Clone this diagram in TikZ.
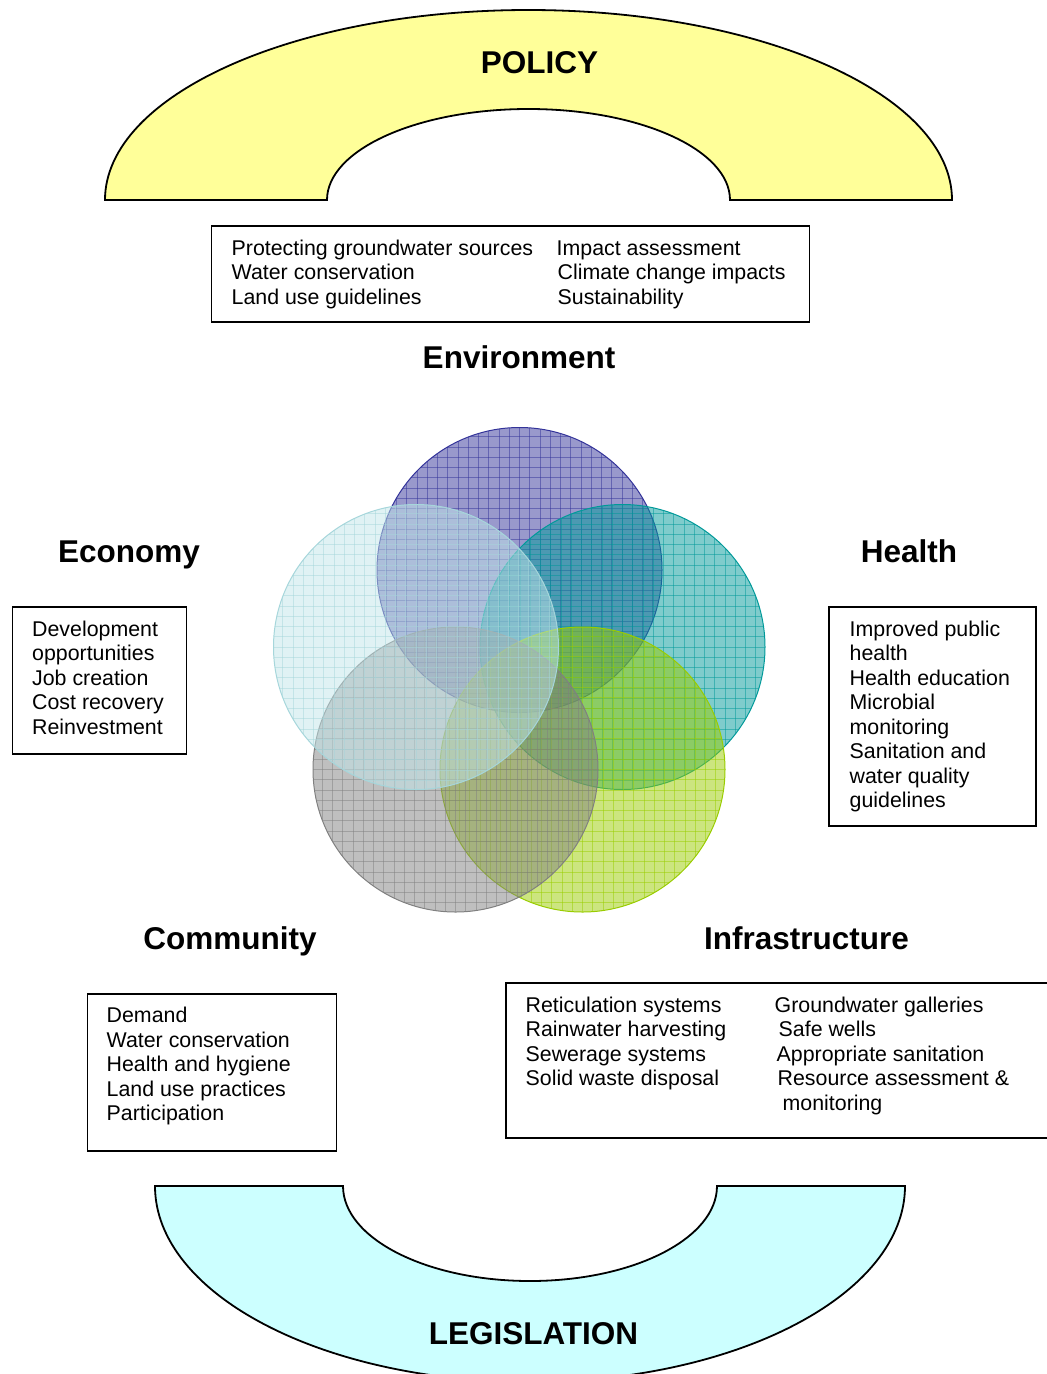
\documentclass[tikz,border=0pt]{standalone}
\usepackage{fontspec}
\setmainfont{Liberation Sans}
\usetikzlibrary{calc}
\definecolor{envc}{HTML}{333399}
\definecolor{heac}{HTML}{009999}
\definecolor{infc}{HTML}{99CC00}
\definecolor{comc}{HTML}{808080}
\definecolor{ecoc}{HTML}{C1E5E9}
\definecolor{ecol}{HTML}{A6D6DB}
\definecolor{polc}{HTML}{FFFF99}
\definecolor{legc}{HTML}{CCFFFF}
\newcommand\vennpetal[4]{%
 \begin{scope}
  \clip (#1,#2) circle[radius=142.5];
  \fill[#3, opacity=0.5] (#1,#2) circle[radius=142.5];
  \foreach \g in {-14,...,14}{
    \draw[#4, opacity=0.5, line width=0.7pt] ({#1+\g*10.25},{#2-145}) -- ({#1+\g*10.25},{#2+145});
    \draw[#4, opacity=0.5, line width=0.7pt] ({#1-145},{#2+\g*10.25}) -- ({#1+145},{#2+\g*10.25});
  }
 \end{scope}
 \draw[#4, line width=1pt] (#1,#2) circle[radius=142.5];
}
\tikzset{
  body/.style={anchor=base west, inner sep=0pt, font=\fontsize{21.35}{24.5}\selectfont},
  head/.style={anchor=base, inner sep=0pt, font=\fontsize{31.5}{36}\selectfont\bfseries},
  listbox/.style={draw=black, line width=1.8pt, fill=none, anchor=north west, inner sep=0pt},
  arch/.style={draw=black, line width=1.8pt}
}
\begin{document}
\begin{tikzpicture}[x=1pt,y=-1pt]
\useasboundingbox (0,0) rectangle (1047,1374);
\begin{scope}
\clip (0,0) rectangle (1047,1374);

% Policy arch
\fill[polc] (105,200) arc[start angle=180, end angle=360, x radius=423.5, y radius=190]
  -- (730,200) arc[start angle=0, end angle=-180, x radius=201.5, y radius=91] -- cycle;
\draw[arch] (105,200) arc[start angle=180, end angle=360, x radius=423.5, y radius=190]
  -- (730,200) arc[start angle=0, end angle=-180, x radius=201.5, y radius=91] -- cycle;
\node[head] (policy) at (539.5,73) {POLICY};

% Legislation arch
\fill[legc] (155,1186) arc[start angle=180, end angle=0, x radius=375, y radius=196]
  -- (717,1186) arc[start angle=0, end angle=180, x radius=187, y radius=95] -- cycle;
\draw[arch] (155,1186) arc[start angle=180, end angle=0, x radius=375, y radius=196]
  -- (717,1186) arc[start angle=0, end angle=180, x radius=187, y radius=95] -- cycle;
\node[head] (legislation) at (533.5,1344) {LEGISLATION};

% Circles
\vennpetal{519.5}{570}{envc}{envc}
\vennpetal{622.5}{647}{heac}{heac}
\vennpetal{582.5}{769.5}{infc}{infc}
\vennpetal{455.5}{769.5}{comc}{comc}
\vennpetal{416}{647}{ecoc}{ecol}

% Headings
\node[head] (environment) at (519,368) {Environment};
\node[head] (economy) at (129,562) {Economy};
\node[head] (health) at (909,562) {Health};
\node[head] (community) at (230,949) {Community};
\node[head] (infrastructure) at (806.5,949) {Infrastructure};

% Policy box
\node[listbox, minimum width=598pt, minimum height=96pt] (pbox) at (210.5,225) {};
\foreach \t [count=\k] in {Protecting groundwater sources, Water conservation, Land use guidelines}
  \node[body] (pl\k) at (231.5,{255+24.5*(\k-1)}) {\t};
\foreach \xx/\t [count=\k] in {556.5/Impact assessment, 557.5/Climate change impacts, 557.5/Sustainability}
  \node[body] (pr\k) at (\xx,{255+24.5*(\k-1)}) {\t};

% Economy box
\node[listbox, minimum width=174pt, minimum height=147pt] (ebox) at (11.5,606) {};
\foreach \t [count=\k] in {Development, opportunities, Job creation, Cost recovery, Reinvestment}
  \node[body] (el\k) at (32,{636+24.5*(\k-1)}) {\t};

% Health box
\node[listbox, minimum width=207pt, minimum height=219pt] (hbox) at (828,606) {};
\foreach \t [count=\k] in {Improved public, health, Health education, Microbial, monitoring, Sanitation and, water quality, guidelines}
  \node[body] (hl\k) at (849.5,{636+24.5*(\k-1)}) {\t};

% Community box
\node[listbox, minimum width=249pt, minimum height=157pt] (cbox) at (86.5,993) {};
\foreach \t [count=\k] in {Demand, Water conservation, Health and hygiene, Land use practices, Participation}
  \node[body] (cl\k) at (106.5,{1022.5+24.5*(\k-1)}) {\t};

% Infrastructure box
\node[listbox, minimum width=560pt, minimum height=155pt] (ibox) at (505,982) {};
\foreach \t [count=\k] in {Reticulation systems, Rainwater harvesting, Sewerage systems, Solid waste disposal}
  \node[body] (il\k) at (525.5,{1012+24.5*(\k-1)}) {\t};
\foreach \xx/\t [count=\k] in {774.5/Groundwater galleries, 778.5/Safe wells, 776.5/Appropriate sanitation, 777.5/Resource assessment \&, 782.5/monitoring}
  \node[body] (ir\k) at (\xx,{1012+24.5*(\k-1)}) {\t};
\end{scope}
\end{tikzpicture}
\end{document}
